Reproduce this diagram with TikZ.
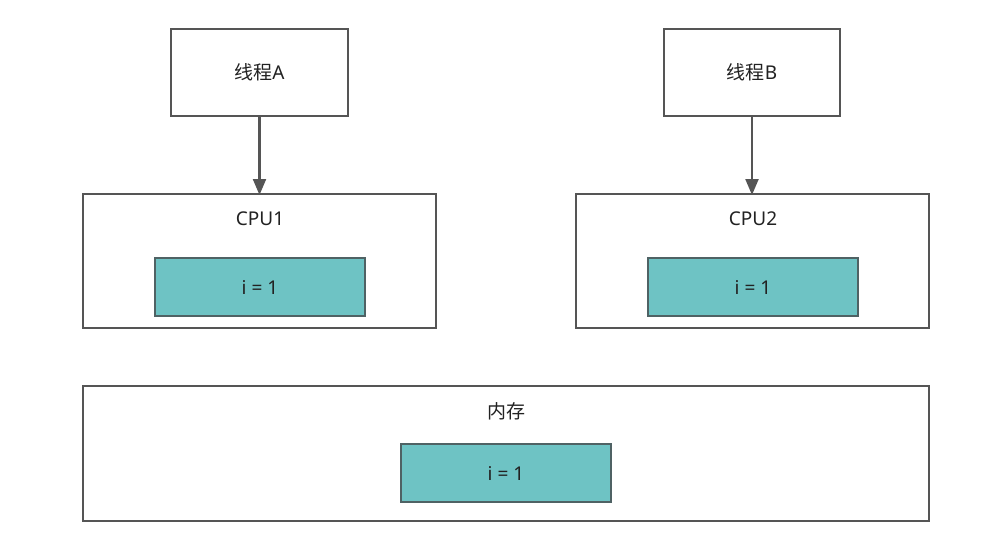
\documentclass[tikz,border=0pt]{standalone}
\usepackage{fontspec}
\setmainfont{Noto Sans}
\newfontfamily\cjk{Noto Sans CJK SC}
\usetikzlibrary{arrows.meta}
\definecolor{edge}{HTML}{555555}
\definecolor{teal}{HTML}{6EC3C4}
\definecolor{tealedge}{HTML}{4F6264}
\definecolor{txt}{HTML}{222222}
\begin{document}
\begin{tikzpicture}[x=1pt,y=-1pt,
  outerbox/.style={draw=edge,line width=2.2pt,fill=white,inner sep=0pt,outer sep=0pt},
  valbox/.style={draw=tealedge,line width=1.1pt,fill=teal,inner sep=0pt,outer sep=0pt,
    minimum width=210pt,minimum height=58pt,font=\fontsize{19}{21}\selectfont,text=txt},
  lbl/.style={font=\fontsize{19}{21}\selectfont,text=txt,inner sep=0pt},
  link/.style={draw=edge,line width=2.2pt,-{Triangle[length=16pt,width=13pt]}}]
\useasboundingbox (0,0) rectangle (999,535);
% threads
\node[outerbox,minimum width=177pt,minimum height=87pt,lbl] (ta) at (259.5,72.5) {{\cjk 线程}A};
\node[outerbox,minimum width=176pt,minimum height=87pt,lbl] (tb) at (752,72.5) {{\cjk 线程}B};
% CPUs
\node[outerbox,minimum width=353pt,minimum height=134pt] (c1) at (259.5,261) {};
\node[outerbox,minimum width=353pt,minimum height=134pt] (c2) at (752.5,261) {};
\node[lbl] (c1l) at (260,219) {CPU1};
\node[lbl] (c2l) at (753,219) {CPU2};
\node[valbox] (v1) at (260,287) {i = 1};
\node[valbox] (v2) at (753,287) {i = 1};
% memory
\node[outerbox,minimum width=846pt,minimum height=135pt] (mem) at (506,453.5) {};
\node[lbl] (meml) at (506,411) {\cjk 内存};
\node[valbox] (v3) at (506,473) {i = 1};
% arrows
\draw[link] (ta.south) -- ([yshift=-1pt]c1.north -| ta.south);
\draw[link] (tb.south) -- ([yshift=-1pt]c2.north -| tb.south);
\end{tikzpicture}
\end{document}
